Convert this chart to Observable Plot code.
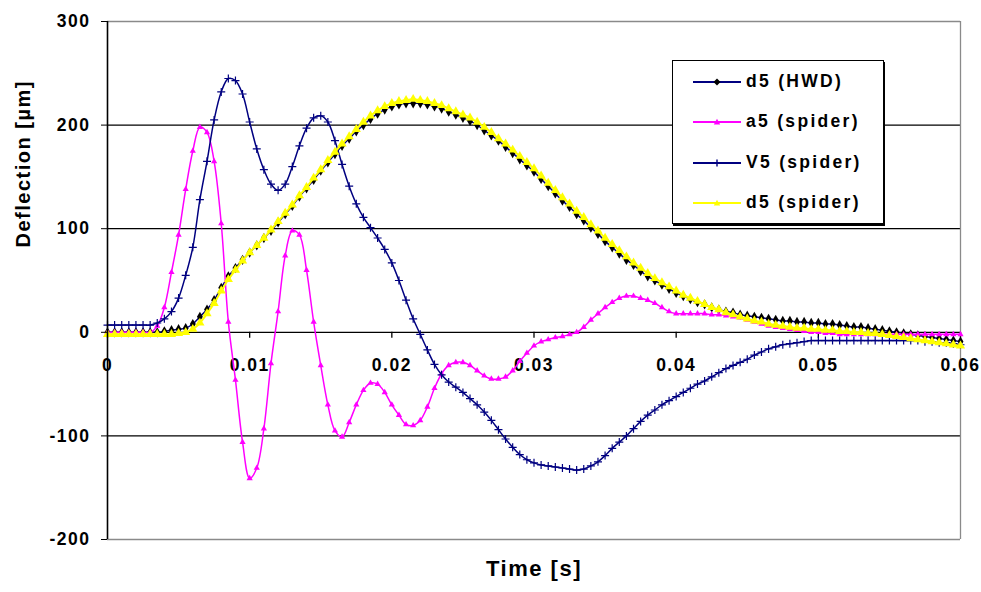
<!DOCTYPE html>
<html><head><meta charset="utf-8">
<script src="https://cdn.jsdelivr.net/npm/d3@7"></script>
<script src="https://cdn.jsdelivr.net/npm/@observablehq/plot@0.6"></script>
<style>
body{margin:0;background:#fff;font-family:"Liberation Sans",Arial,sans-serif;}
#wrap{position:relative;width:981px;height:592px;}
#legend{position:absolute;left:672px;top:60px;width:210px;height:162px;border:1.5px solid #000;background:#fff;box-shadow:1px 2px 0 #000;}
.row{position:absolute;left:20px;height:20px;display:flex;align-items:center;font-weight:bold;font-size:17.5px;letter-spacing:2.3px;color:#000;white-space:nowrap;}
.row svg{margin-right:5px;display:block}
</style></head><body><div id="wrap"></div>
<script>
// sampling interval of the records (s)
const dt = 0.0005;

// d5 (HWD) deflection [µm]
const hwd = [0,0,0,0,0,0,0,0,1,2,3,4,8,15,22,31,43,54,62,70,77,84,91,98,106,114,122,131,139,147,156,164,172,180,187,194,200,206,211,215,218,220,221,221,221,220,218,216,213,210,207,204,200,195,190,185,179,173,167,161,155,148,141,134,127,121,114,108,101,95,88,82,76,70,65,59,54,50,46,42,38,35,32,29,27,24,22,20,19,17,16,15,14,13,12,11,11,10,10,9,9,8,8,7,6,5,5,4,3,2,1,0,-1,-2,-3,-4,-5,-6,-7,-8,-9];

// a5 (spider)
const a5 = [0,0,0,0,0,0,0,6,24,58,94,138,175,198,193,165,105,10,-46,-106,-141,-131,-93,-30,20,74,98,94,60,10,-32,-70,-95,-101,-87,-70,-56,-49,-50,-58,-70,-80,-89,-90,-85,-72,-54,-40,-32,-29,-29,-32,-37,-42,-45,-45,-43,-37,-28,-20,-13,-9,-7,-5,-4,-2,0,5,12,18,24,29,33,35,35,33,31,28,24,20,18,18,18,18,18,17,17,16,15,14,12,10,8,6,5,4,3,2,1,0,0,-1,-1,-2,-2,-2,-2,-2,-2,-2,-2,-2,-2,-2,-2,-2,-2,-2,-2,-2,-2];

// V5 (spider)
const v5 = [7,7,7,7,7,7,7,9,13,20,33,55,82,128,165,205,232,245,243,230,203,177,157,143,137,143,160,180,197,207,209,203,185,162,141,124,111,101,91,80,67,50,31,13,-2,-17,-31,-41,-48,-53,-58,-64,-70,-77,-85,-94,-103,-111,-118,-123,-126,-128,-129,-130,-131,-132,-133,-132,-129,-125,-119,-112,-106,-100,-93,-86,-80,-75,-70,-66,-62,-58,-54,-50,-47,-43,-39,-35,-32,-29,-26,-22,-19,-16,-14,-12,-11,-10,-9,-8,-8,-8,-8,-8,-8,-8,-8,-8,-8,-8,-8,-8,-8,-8,-8,-9,-9,-10,-10,-11,-12];

// d5 (spider)
const d5s = [-2,-2,-2,-2,-2,-2,-2,-2,-2,-2,-1,0,3,9,18,28,40,51,60,69,77,84,91,99,107,115,123,132,140,149,157,166,174,182,189,196,203,209,214,218,221,223,224,225,224,223,221,219,216,213,210,207,203,198,193,187,182,176,170,164,158,151,144,137,130,124,117,111,104,98,91,85,79,73,67,62,57,52,48,44,40,36,33,30,27,24,22,19,17,15,13,11,10,8,7,6,5,4,4,3,3,2,2,1,1,0,0,-1,-1,-2,-3,-4,-5,-6,-7,-8,-9,-10,-11,-12,-13];

const seriesNames = ["d5 (HWD)", "a5 (spider)", "V5 (spider)", "d5 (spider)"];
const seriesValues = [hwd, a5, v5, d5s];
const lineColors = ["#000080", "#FF00FF", "#000080", "#FFFF00"];
const markerColors = ["#000000", "#FF00FF", "#000080", "#FFFF00"];
const markerSymbols = ["diamond", "triangle", "plus", "triangle"];
const markerSizes = [3.1, 2.3, 2.7, 3.4];

const xTicks = [0, 0.01, 0.02, 0.03, 0.04, 0.05, 0.06];
const xTickLabels = ["0", "0.01", "0.02", "0.03", "0.04", "0.05", "0.06"];
const yTicks = [-200, -100, 0, 100, 200, 300];
const yTickLabels = ["-200", "-100", "0", "100", "200", "300"];
const gridValues = [-100, 100, 200];

const time = hwd.map((_, i) => +(i * dt).toFixed(4));
const tables = seriesValues.map(vals => vals.map((v, i) => ({t: time[i], v})));

const marks = [
  Plot.ruleY(gridValues, {stroke: "#000", strokeWidth: 1.3}),
  Plot.ruleY([yTicks[0], yTicks[yTicks.length - 1]], {stroke: "#8a8a8a", strokeWidth: 1.3}),
  Plot.ruleX([xTicks[xTicks.length - 1]], {stroke: "#8a8a8a", strokeWidth: 1.3}),
  Plot.ruleY([0], {stroke: "#000", strokeWidth: 1.3}),
  Plot.ruleX(xTicks, {x: d => d, y1: 0, y2: 0, insetBottom: -6, stroke: "#000", strokeWidth: 1.3}),
  Plot.text(xTicks, {x: d => d, y: 0, text: (d, i) => xTickLabels[i], dy: 33, fontSize: 17.5, fontWeight: "bold", fill: "#000"})
];
tables.forEach((data, s) => {
  marks.push(Plot.line(data, {x: "t", y: "v", stroke: lineColors[s], strokeWidth: s === 3 ? 2 : 1.5, curve: "catmull-rom"}));
  const sym = markerSymbols[s];
  marks.push(Plot.dot(data, {
    x: "t", y: "v", symbol: sym, r: markerSizes[s],
    fill: sym === "plus" ? "none" : markerColors[s],
    stroke: sym === "plus" ? markerColors[s] : "none",
    strokeWidth: 1.2
  }));
});
marks.push(
  Plot.ruleX([0], {stroke: "#000", strokeWidth: 1.6}),
  Plot.axisY({ticks: yTicks, tickFormat: d => yTickLabels[yTicks.indexOf(d)], tickSize: 6, tickPadding: 11, fontSize: 17.5, fontWeight: "bold", label: null, stroke: "#000"}),
  Plot.text(["Deflection [µm]"], {text: d => d, frameAnchor: "left", dx: -84, dy: -33, rotate: -90, fontSize: 20, fontWeight: "bold", fill: "#000"}),
  Plot.text(["Time [s]"], {text: d => d, frameAnchor: "bottom", dy: 36, fontSize: 22, fontWeight: "bold", fill: "#000"})
);

const chart = Plot.plot({
  width: 981,
  height: 592,
  marginLeft: 107,
  marginRight: 21,
  marginTop: 21,
  marginBottom: 53,
  x: {domain: [0, 0.06], axis: null},
  y: {domain: [-200, 300], axis: null},
  style: {fontFamily: '"Liberation Sans", Arial, sans-serif', fontWeight: "bold", letterSpacing: "1.5px", background: "#fff", color: "#000", overflow: "visible"},
  marks
});
const wrap = document.getElementById("wrap");
wrap.appendChild(chart);

// legend
const legend = document.createElement("div");
legend.id = "legend";
const rowTops = [10.5, 50.5, 91.5, 131.5];
function markerSvg(sym, color) {
  if (sym === "diamond") return `<polygon points="24,1.5 27.5,5 24,8.5 20.5,5" fill="${color}"/>`;
  if (sym === "triangle") return `<polygon points="24,1.8 27.2,7.6 20.8,7.6" fill="${color}"/>`;
  return `<path d="M24,1.5V8.5M20.5,5H27.5" stroke="${color}" stroke-width="1.4"/>`;
}
seriesNames.forEach((name, s) => {
  const row = document.createElement("div");
  row.className = "row";
  row.style.top = rowTops[s] + "px";
  row.innerHTML = `<svg width="48" height="10" viewBox="0 0 48 10"><line x1="0" y1="5" x2="48" y2="5" stroke="${lineColors[s]}" stroke-width="2"/>${markerSvg(markerSymbols[s], markerColors[s])}</svg><span>${name}</span>`;
  legend.appendChild(row);
});
wrap.appendChild(legend);
</script></body></html>
